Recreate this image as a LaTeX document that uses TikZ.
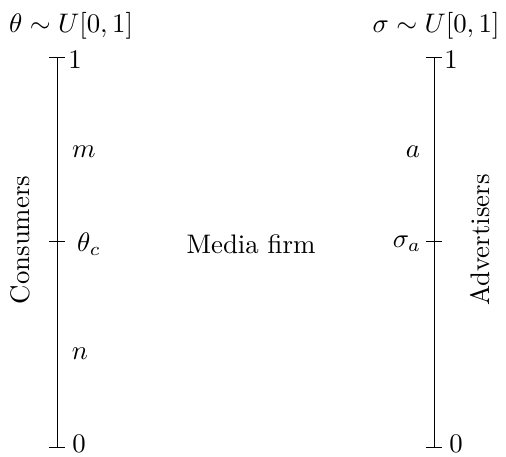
\documentclass[tikz,border=0pt]{standalone}
\usetikzlibrary{positioning}

\begin{document}
\begin{tikzpicture}[
    x=0.373pt, y=-0.373pt,
    axis/.style={line width=0.3pt, black},
    tick/.style={line width=0.3pt, black},
    val/.style={inner sep=0pt},
    side/.style={rotate=90, inner sep=0pt}
  ]
  \useasboundingbox (0,0) rectangle (506,457);

  % Consumers axis
  \coordinate (c0) at (57,447);
  \coordinate (cc) at (57,241);
  \coordinate (c1) at (57,57);
  \draw[axis] (c0) -- (c1);
  \draw[tick] ([xshift=-3pt]c1) -- ([xshift=3pt]c1);
  \draw[tick] ([xshift=-3pt]cc) -- ([xshift=3pt]cc);
  \draw[tick] ([xshift=-3pt]c0) -- ([xshift=3pt]c0);

  % Advertisers axis
  \coordinate (a0) at (434,447);
  \coordinate (ac) at (434,241);
  \coordinate (a1) at (434,57);
  \draw[axis] (a0) -- (a1);
  \draw[tick] ([xshift=-3pt]a1) -- ([xshift=3pt]a1);
  \draw[tick] ([xshift=-3pt]ac) -- ([xshift=3pt]ac);
  \draw[tick] ([xshift=-3pt]a0) -- ([xshift=3pt]a0);

  % Distributions
  \node[val] (thetadist) at (71,26) {$\theta\sim U[0,1]$};
  \node[val] (sigmadist) at (436,26) {$\sigma\sim U[0,1]$};

  % End values
  \node[val] (cone)  at (75,60)   {$1$};
  \node[val] (czero) at (79,444)  {$0$};
  \node[val] (aone)  at (451,60)  {$1$};
  \node[val] (azero) at (456,444) {$0$};

  % Consumer side
  \node[val] (m)      at (84,152)  {$m$};
  \node[val] (thetac) at (89,244)  {$\theta_c$};
  \node[val] (n)      at (80,354)  {$n$};
  \node[side] (cons)  at (20,240)  {Consumers};

  % Advertiser side
  \node[val] (a)      at (413,152) {$a$};
  \node[val] (sigmaa) at (407,244) {$\sigma_a$};
  \node[side] (adv)   at (480,240) {Advertisers};

  % Platform
  \node[val] (firm) at (251,244) {Media firm};
\end{tikzpicture}
\end{document}
